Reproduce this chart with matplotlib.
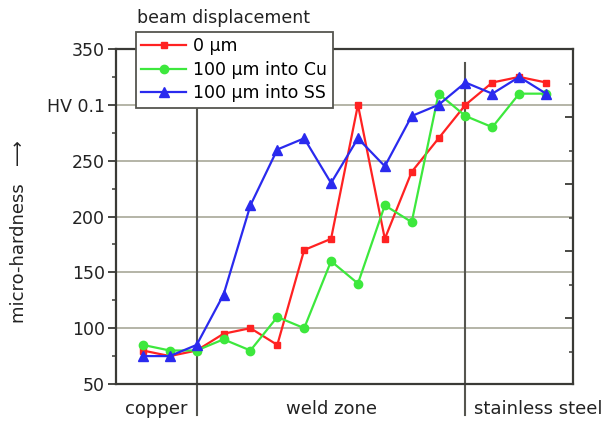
import matplotlib
matplotlib.use("Agg")
import matplotlib.pyplot as plt
from matplotlib.ticker import FixedLocator, FixedFormatter

plt.rcParams["font.family"] = ["DejaVu Sans"]

# measurement positions along the line (1..16)
positions = list(range(1, 17))

# micro-hardness values, HV 0.1
hv_0um = [80, 75, 80, 95, 100, 85, 170, 180, 300, 180, 240, 270, 300, 320, 325, 320]
hv_cu = [85, 80, 80, 90, 80, 110, 100, 160, 140, 210, 195, 310, 290, 280, 310, 310]
hv_ss = [75, 75, 85, 130, 210, 260, 270, 230, 270, 245, 290, 300, 320, 310, 325, 310]

series_labels = ["0 µm", "100 µm into Cu", "100 µm into SS"]
legend_title = "beam displacement"

# zone boundaries and zone names
zone_edges = [3, 13]
zone_names = ["copper", "weld zone", "stainless steel"]
zone_label_x = [1.5, 8, 15.7]

y_ticks = [50, 100, 150, 200, 250, 300, 350]
y_tick_labels = ["50", "100", "150", "200", "250", "HV 0.1", "350"]

fig = plt.figure(figsize=(6.07, 4.24), dpi=100)
ax = fig.add_axes([116 / 607, 40 / 424, 457 / 607, 335 / 424])

dark = "#3a3a36"
grid_col = "#a8a898"

# horizontal grid
for y in y_ticks[1:-1]:
    ax.axhline(y, color=grid_col, lw=1.2, zorder=0)

# zone separators, running below the axis
for xe in zone_edges:
    ax.axvline(xe, ymin=-0.092, ymax=0.958, color="#55554f", lw=1.5,
               clip_on=False, zorder=1)

ax.plot(positions, hv_0um, color="#ff2222", marker="s", ms=5, lw=1.6,
        label=series_labels[0], zorder=3)
ax.plot(positions, hv_cu, color="#3de83d", marker="o", ms=6, lw=1.6,
        label=series_labels[1], zorder=3)
ax.plot(positions, hv_ss, color="#2a2aee", marker="^", ms=6.5, lw=1.6,
        label=series_labels[2], zorder=3)

ax.set_xlim(0, 17)
ax.set_ylim(50, 350)
ax.set_xticks([])

ax.yaxis.set_major_locator(FixedLocator(y_ticks))
ax.yaxis.set_major_formatter(FixedFormatter(y_tick_labels))
ax.yaxis.set_minor_locator(FixedLocator([75, 125, 175, 225, 275, 325]))
ax.tick_params(axis="y", which="major", direction="out", length=6, width=1.3,
               color=dark, labelsize=12.5, labelcolor="#222222", pad=2)
ax.tick_params(axis="y", which="minor", direction="out", length=3, width=1.1,
               color=dark)

for sp in ax.spines.values():
    sp.set_color(dark)
    sp.set_linewidth(1.6)

# right axis ticks (inward, no labels)
ax2 = ax.twinx()
ax2.set_ylim(50, 350)
ax2.yaxis.set_major_locator(FixedLocator([109, 169, 229, 289]))
ax2.yaxis.set_minor_locator(FixedLocator([79, 139, 199, 259, 319]))
ax2.tick_params(axis="y", which="major", direction="in", length=6, width=1.3,
                color=dark, labelright=False)
ax2.tick_params(axis="y", which="minor", direction="in", length=3, width=1.1,
                color=dark)
for sp in ax2.spines.values():
    sp.set_visible(False)

for name, xpos in zip(zone_names, zone_label_x):
    ax.text(xpos, -0.074, name, transform=ax.get_xaxis_transform(),
            ha="center", va="center", fontsize=13, color="#222222")

fig.text(19 / 607, 1 - 232 / 424, "micro-hardness   \u27f6", rotation=90,
         ha="center", va="center", fontsize=13, color="#222222")

leg = ax.legend(loc="upper left", bbox_to_anchor=(136 / 607, 1 - 32 / 424),
                bbox_transform=fig.transFigure, borderaxespad=0,
                fancybox=False, framealpha=1, edgecolor="#55554f",
                fontsize=12.5, handlelength=2.6, labelspacing=0.32,
                borderpad=0.3, handletextpad=0.4)
leg.get_frame().set_linewidth(1.3)
leg.set_zorder(5)

fig.text(137 / 607, 1 - 18 / 424, legend_title, ha="left", va="center",
         fontsize=12.5, color="#222222")

fig.savefig("out.png", dpi=100)
